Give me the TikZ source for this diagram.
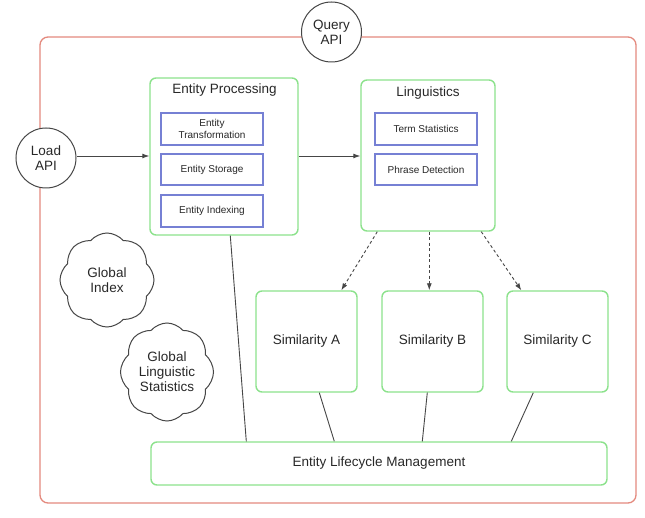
\documentclass[tikz,border=0pt]{standalone}
\usepackage{fontspec}
\setmainfont{Liberation Sans}
\usetikzlibrary{arrows.meta,shapes.symbols,calc}
\definecolor{frameRed}{RGB}{228,138,126}
\definecolor{boxGreen}{RGB}{140,226,140}
\definecolor{subBlue}{RGB}{118,128,212}
\definecolor{lineGray}{RGB}{70,70,70}
\definecolor{txt}{RGB}{40,40,40}
\tikzset{
  big/.style={font=\fontsize{13.5}{15}\selectfont, text=txt},
  small/.style={font=\fontsize{10}{12}\selectfont, text=txt},
  framebox/.style={draw=frameRed, line width=1.3pt, rounded corners=8pt, inner sep=0pt},
  greenbox/.style={draw=boxGreen, line width=1.4pt, rounded corners=6pt, inner sep=0pt, fill=white},
  bluebox/.style={draw=subBlue, line width=1.2pt, inner sep=0pt, minimum width=102pt, small, align=center},
  apicircle/.style={draw=lineGray, line width=1pt, circle, fill=white, minimum size=60pt, inner sep=0pt, big, align=center},
  cloudnode/.style={draw=lineGray, line width=1pt, cloud, cloud puffs=8, cloud puff arc=100, aspect=1, inner sep=0pt, big, align=center},
  conn/.style={draw=lineGray, line width=0.9pt},
  arr/.style={conn, -{Latex[length=7pt,width=5pt]}},
  darr/.style={conn, dashed, dash pattern=on 3pt off 2.5pt, -{Latex[length=7pt,width=5pt]}}
}
\begin{document}
\begin{tikzpicture}[x=1pt,y=-1pt]
\useasboundingbox[fill=white] (0,0) rectangle (645,518);
% outer frame
\node[framebox, minimum width=596pt, minimum height=466pt] (frame) at (338,270) {};
% API circles
\node[apicircle] (query) at (331.5,32) {Query\\API};
\node[apicircle] (load) at (46,158) {Load\\API};
% Entity Processing
\node[greenbox, minimum width=148pt, minimum height=157pt] (EP) at (224,156.5) {};
\node[big] (EPt) at (224.5,90) {Entity Processing};
\node[bluebox, minimum height=32pt] (ET) at (212,129) {Entity\\Transformation};
\node[bluebox, minimum height=31pt] (ES) at (212,169.5) {Entity Storage};
\node[bluebox, minimum height=32pt] (EI) at (212,211) {Entity Indexing};
% Linguistics
\node[greenbox, minimum width=134pt, minimum height=151pt] (Ling) at (428,155.5) {};
\node[big] (Lingt) at (428,93) {Linguistics};
\node[bluebox, minimum height=32pt] (TS) at (426,129) {Term Statistics};
\node[bluebox, minimum height=31pt] (PD) at (426,169.5) {Phrase Detection};
% Similarities
\node[greenbox, big, minimum width=101pt, minimum height=101pt] (SA) at (306.5,341.5) {Similarity A};
\node[greenbox, big, minimum width=101pt, minimum height=101pt] (SB) at (432.5,341.5) {Similarity B};
\node[greenbox, big, minimum width=101pt, minimum height=101pt] (SC) at (557.5,341.5) {Similarity C};
% Lifecycle
\node[greenbox, big, minimum width=456pt, minimum height=43pt] (ELM) at (379,463.5) {Entity Lifecycle Management};
% clouds
\node[cloudnode, minimum width=94pt, minimum height=94pt] (GI) at (107,280) {Global\\Index};
\node[cloudnode, minimum width=93pt, minimum height=98pt] (GLS) at (167,372) {Global\\Linguistic\\Statistics};
% connectors
\draw[arr] (load.east |- 0,156) -- (EP.west |- 0,156);
\draw[arr] (EP.east |- 0,156) -- (Ling.west |- 0,156);
\draw[darr] ([xshift=17pt]Ling.south west) -- ([xshift=86pt]SA.north west);
\draw[darr] ([xshift=69pt]Ling.south west) -- ([xshift=48pt]SB.north west);
\draw[darr] ([xshift=121pt]Ling.south west) -- ([xshift=15pt]SC.north west);
\draw[conn] ([xshift=81pt]EP.south west) -- ([xshift=96pt]ELM.north west);
\draw[conn] ([xshift=64pt]SA.south west) -- ([xshift=184pt]ELM.north west);
\draw[conn] ([xshift=46pt]SB.south west) -- ([xshift=272pt]ELM.north west);
\draw[conn] ([xshift=27pt]SC.south west) -- ([xshift=361pt]ELM.north west);
\end{tikzpicture}
\end{document}
